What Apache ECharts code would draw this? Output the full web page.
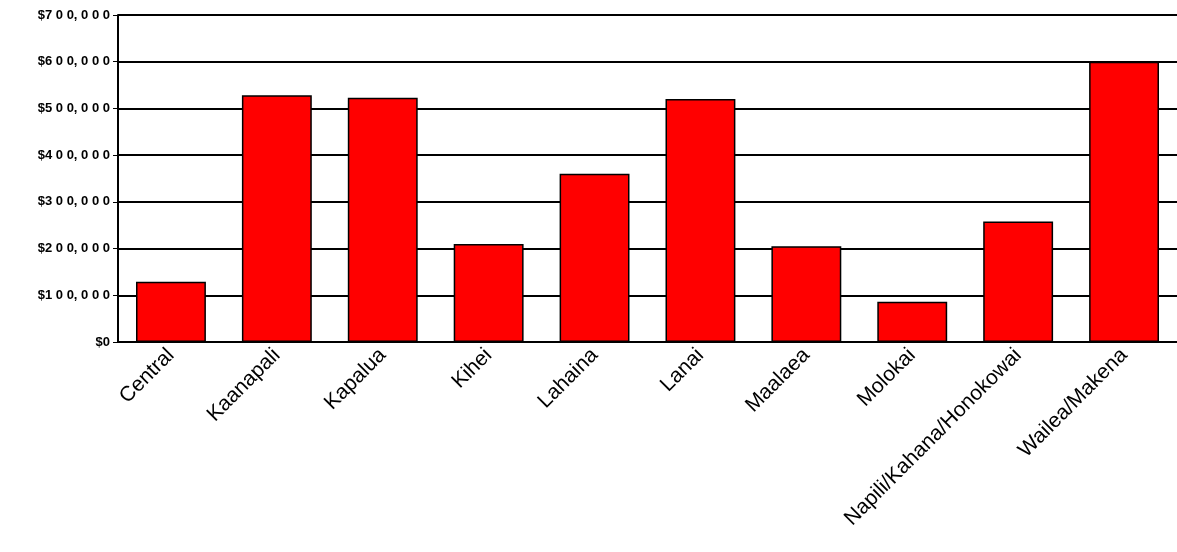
<!DOCTYPE html>
<html>
<head>
<meta charset="UTF-8">
<title>Median price by area</title>
<script type="text/javascript" src="https://cdn.jsdelivr.net/npm/echarts@6/dist/echarts.min.js"></script>
<style>body{margin:0;background:#fff}</style>
</head>
<body>
    <div id="main" style="width:1177px;height:552px;"></div>
    <script type="text/javascript">
        var categories = ['Central', 'Kaanapali', 'Kapalua', 'Kihei', 'Lahaina', 'Lanai', 'Maalaea', 'Molokai', 'Napili/Kahana/Honokowai', 'Wailea/Makena'];
        var values = [129000, 528000, 523000, 210000, 360000, 520000, 205000, 86000, 258000, 600000];

        var myChart = echarts.init(document.getElementById('main'));
        var option = {
            animation: false,
            grid: { left: 118, right: 0, top: 15, bottom: 210 },
            xAxis: {
                type: 'category',
                data: categories,
                axisLine: { lineStyle: { color: '#000', width: 2 } },
                axisTick: { lineStyle: { color: '#000' }, length: 6 },
                axisLabel: { rotate: 45, color: '#000', fontFamily: 'Arial, Liberation Sans', fontSize: 21, margin: 10 }
            },
            yAxis: {
                type: 'value',
                min: 0, max: 700000, interval: 100000,
                axisLine: { show: true, lineStyle: { color: '#000', width: 2 } },
                axisTick: { show: true, lineStyle: { color: '#000' }, length: 5 },
                splitLine: { lineStyle: { color: '#000', width: 2 } },
                axisLabel: {
                    color: '#000', fontFamily: 'Arial, Liberation Sans', fontSize: 13, fontWeight: 'bold', margin: 8,
                    formatter: function (v) { return '$' + v.toLocaleString('en-US').split('').join(' ').replace(/ , /g, ', '); }
                }
            },
            series: [{
                type: 'bar',
                data: values,
                barCategoryGap: '34%',
                itemStyle: { color: '#ff0000', borderColor: '#000', borderWidth: 1.5 }
            }]
        };
        myChart.setOption(option);
    </script>
</body>
</html>
